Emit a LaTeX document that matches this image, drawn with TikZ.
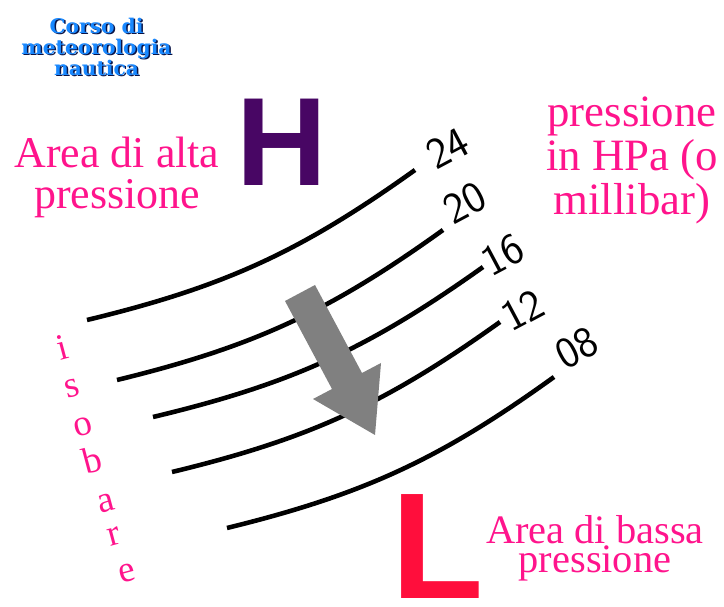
\documentclass[tikz,border=0pt]{standalone}
\usepackage{fontspec}
\setmainfont{Liberation Serif}
\newfontfamily\blockfont{Liberation Sans}
\newfontfamily\titlefont{DejaVu Serif}
\definecolor{hipurple}{RGB}{72,6,100}
\definecolor{lored}{RGB}{255,14,60}
\definecolor{labpink}{RGB}{255,20,140}
\definecolor{titleblue}{RGB}{24,136,255}
\definecolor{titleshade}{RGB}{10,20,70}
\definecolor{flowgray}{RGB}{128,128,128}

\begin{document}
\begin{tikzpicture}[x=0.02cm,y=-0.02cm,
	isobar/.style={line width=2.6pt, black},
	pval/.style={font=\sffamily\fontsize{25}{25}\selectfont, inner sep=0, rotate=28},
	pinklab/.style={text=labpink, inner sep=0, align=center},
	isolett/.style={text=labpink, font=\fontsize{21}{21}\selectfont, inner sep=0, rotate=15},
	titlelab/.style={font=\titlefont\bfseries\fontsize{11.5}{12}\selectfont, inner sep=0, align=center},
	flow/.style={fill=flowgray}]

		\useasboundingbox (0,0) rectangle (724,607);

		%title
		\node[titlelab,text=titleshade] at (98,48) (ttls) {Corso di\\meteorologia\\nautica};
		\node[titlelab,text=titleblue] at (96.5,47) (ttl) {Corso di\\meteorologia\\nautica};

		%high and low
		\node[inner sep=0,text=hipurple,font=\blockfont\bfseries\fontsize{71.5}{72}\selectfont] at (282,142) (H) {H};
		\node[inner sep=0,text=lored,font=\blockfont\bfseries\fontsize{86}{88}\selectfont] at (438,547) (L) {L};
		\node[pinklab,font=\fontsize{25}{23.3}\selectfont,anchor=north] at (117,137) (hiarea) {Area di alta\\pressione};
		\node[pinklab,font=\fontsize{23}{16.5}\selectfont,anchor=north] at (595,515.5) (loarea) {Area di bassa\\pressione};
		\node[pinklab,font=\fontsize{25.5}{25}\selectfont,anchor=north] at (632,96.5) (unit) {pressione\\in HPa (o\\millibar)};

		%isobars
		\foreach \p/\sx/\sy/\ex/\ey/\lx/\ly in {24/87/320/415/170/448/148, 20/117/380/443/230/465/203, 16/153/417/483/267/503/255, 12/172/472/500/322/523/310, 08/227/528/554/377/577/348} {
			\coordinate (s\p) at (\sx,\sy);
			\coordinate (e\p) at (\ex,\ey);
			\draw[isobar] (s\p) to[bend right=11] (e\p);
			\node[pval] at (\lx,\ly) (v\p) {\p};
		}
		\foreach \c/\x/\y [count=\k] in {i/62/347, s/72/388, o/83/427, b/92/460, a/106/503, r/114/537, e/127/573} {
			\node[isolett] at (\x,\y) (iso\k) {\c};
		}

		%flow from H to L
		\fill[flow] (285,301) -- (332,389) -- (313,399) -- (375,435) -- (381,363) -- (362,373) -- (315,285) -- cycle;
	\end{tikzpicture}
\end{document}
